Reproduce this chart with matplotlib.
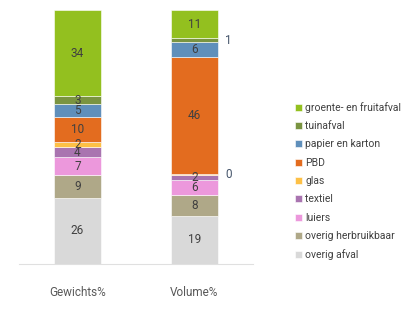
import matplotlib
matplotlib.use('Agg')
import matplotlib.pyplot as plt
import numpy as np

# stacked waste composition, bottom segment first
categories = ['Gewichts%', 'Volume%']
fractions = ['overig afval', 'overig herbruikbaar', 'luiers', 'textiel', 'glas',
             'PBD', 'papier en karton', 'tuinafval', 'groente- en fruitafval']
gewicht = [26, 9, 7, 4, 2, 10, 5, 3, 34]
volume = [19, 8, 6, 2, 0.4, 46, 6, 1.4, 11.2]
colors = ['#d9d9d9', '#afa888', '#ec98dc', '#a974b0', '#fdc046',
          '#e36c1f', '#5f8fbb', '#7a9441', '#93c01f']

plt.rcParams['font.family'] = ['Roboto', 'DejaVu Sans']

fig = plt.figure(figsize=(4.12, 3.27), dpi=100)
ax = fig.add_axes([0.0461, 0.1927, 0.568, 0.777])

data = np.array([gewicht, volume]).T
x = np.arange(len(categories))
bottom = np.zeros(len(categories))
for vals, name, col in zip(data, fractions, colors):
    ax.bar(x, vals, 0.4, bottom=bottom, color=col, label=name,
           edgecolor='white', linewidth=0.4)
    for xi, v, b0 in zip(x, vals, bottom):
        if v >= 1.5:
            ax.text(xi, b0 + v / 2, f'{v:.0f}', ha='center', va='center',
                    fontsize=8.5, color='#404040')
        else:
            # thin segments get their label beside the bar
            ax.text(xi + 0.26, b0 + v / 2, f'{v:.0f}', ha='left', va='center',
                    fontsize=8.5, color='#44546a')
    bottom += vals

ax.set_xlim(-0.5, 1.5)
ax.set_ylim(0, 100)
ax.set_yticks([])
ax.set_xticks(x)
ax.set_xticklabels(categories, fontsize=8.5, color='#595959')
ax.tick_params(axis='x', length=0, pad=16)
for s in ['top', 'left', 'right']:
    ax.spines[s].set_visible(False)
ax.spines['bottom'].set_color('#e0e0e0')

h, l = ax.get_legend_handles_labels()
fig.legend(h[::-1], l[::-1], loc='center left', bbox_to_anchor=(0.693, 0.446),
           frameon=False, fontsize=7.5, handlelength=0.7, handleheight=0.7,
           handletextpad=0.3, labelspacing=0.8, labelcolor='#404040')

fig.savefig('out.png', dpi=100)
